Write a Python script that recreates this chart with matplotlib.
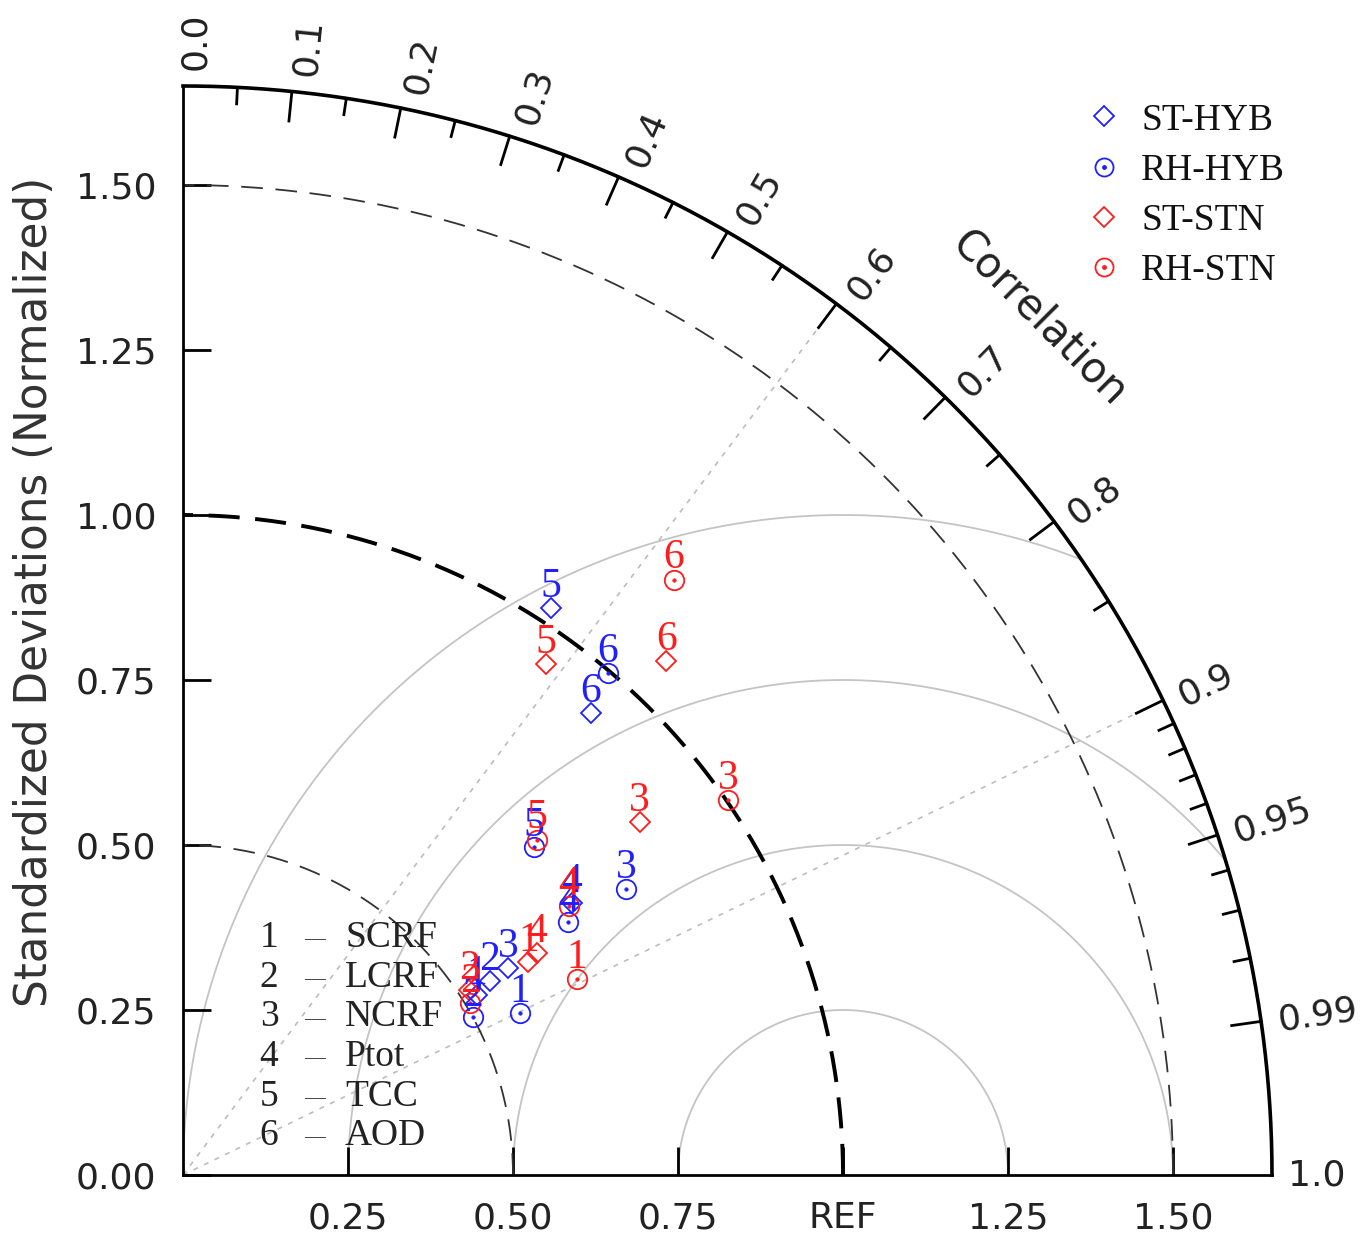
import numpy as np
import matplotlib
matplotlib.use('Agg')
import matplotlib.pyplot as plt
from matplotlib.lines import Line2D
from matplotlib.legend_handler import HandlerTuple

# ---------------- data ----------------
var_ids = ['1', '2', '3', '4', '5', '6']
variables = ['SCRF', 'LCRF', 'NCRF', 'Ptot', 'TCC', 'AOD']
series_names = ['ST-HYB', 'RH-HYB', 'ST-STN', 'RH-STN']

st_hyb_std = [0.522, 0.550, 0.584, 0.719, 1.024, 0.934]
st_hyb_corr = [0.853, 0.845, 0.843, 0.819, 0.545, 0.662]
rh_hyb_std = [0.567, 0.500, 0.799, 0.698, 0.728, 0.997]
rh_hyb_corr = [0.901, 0.878, 0.840, 0.836, 0.731, 0.646]
st_stn_std = [0.615, 0.516, 0.875, 0.633, 0.950, 1.069]
st_stn_corr = [0.851, 0.840, 0.791, 0.847, 0.579, 0.685]
rh_stn_std = [0.667, 0.507, 1.003, 0.713, 0.739, 1.169]
rh_stn_corr = [0.895, 0.858, 0.824, 0.820, 0.726, 0.636]

std_ticks = [0.25, 0.50, 0.75, 1.00, 1.25, 1.50]
x_tick_labels = ['0.25', '0.50', '0.75', 'REF', '1.25', '1.50']
y_ticks = [0.0, 0.25, 0.50, 0.75, 1.00, 1.25, 1.50]
y_tick_labels = ['0.00', '0.25', '0.50', '0.75', '1.00', '1.25', '1.50']
corr_major = [0.0, 0.1, 0.2, 0.3, 0.4, 0.5, 0.6, 0.7, 0.8, 0.9, 0.95, 0.99, 1.0]
corr_major_labels = ['0.0', '0.1', '0.2', '0.3', '0.4', '0.5', '0.6', '0.7',
                     '0.8', '0.9', '0.95', '0.99', '1.0']
corr_minor = [0.05, 0.15, 0.25, 0.35, 0.45, 0.55, 0.65, 0.75, 0.85,
              0.91, 0.92, 0.93, 0.94, 0.96, 0.97, 0.98]
rms_levels = [0.25, 0.50, 0.75, 1.00]
std_thin_arcs = [0.5, 1.5]
ref_std = 1.0
corr_lines = [0.6, 0.9]
smax = 1.65

BLUE = '#2020ff'
RED = '#ff1c1c'

# ---------------- figure ----------------
W, H = 1365, 1234
fig = plt.figure(figsize=(W / 100, H / 100), dpi=100)
X0, Y0, SZ = 183, 1175, 1089
ax = fig.add_axes([X0 / W, (H - Y0) / H, SZ / W, SZ / H])
ax.set_xlim(0, smax)
ax.set_ylim(0, smax)

def pfrac(px, py):
    return ((px - X0) / SZ, (Y0 - py) / SZ)

for s in ['top', 'right']:
    ax.spines[s].set_visible(False)
for s in ['left', 'bottom']:
    ax.spines[s].set_linewidth(2.0)
    ax.spines[s].set_color('black')

ax.set_xticks(std_ticks)
ax.set_xticklabels(x_tick_labels)
ax.set_yticks(y_ticks)
ax.set_yticklabels(y_tick_labels)
ax.tick_params(direction='in', length=20, width=2, pad=19, labelsize=26,
               labelcolor='#222222', color='black')
for lab in ax.get_xticklabels() + ax.get_yticklabels():
    lab.set_family('DejaVu Sans')

# outer arc
th = np.linspace(0, np.pi / 2, 400)
ax.plot(smax * np.cos(th), smax * np.sin(th), color='black', lw=2.6,
        clip_on=False, zorder=5)

# std arcs
for r in std_thin_arcs:
    ax.plot(r * np.cos(th), r * np.sin(th), color='#333333', lw=1.3,
            dashes=(12, 7), zorder=2)
ax.plot(ref_std * np.cos(th), ref_std * np.sin(th), color='black', lw=2.8,
        dashes=(8, 4), zorder=2)

# RMS arcs centered on REF
t = np.linspace(0, np.pi, 800)
for R in rms_levels:
    xs = ref_std + R * np.cos(t)
    ys = R * np.sin(t)
    m = (np.hypot(xs, ys) > smax) | (xs < 0)
    xs = np.where(m, np.nan, xs)
    ys = np.where(m, np.nan, ys)
    ax.plot(xs, ys, color='#c4c4c4', lw=1.3, zorder=1)

# correlation lines
for c in corr_lines:
    a = np.arccos(c)
    ax.plot([0, smax * np.cos(a)], [0, smax * np.sin(a)], color='#bdbdbd',
            lw=1.2, dashes=(3, 4), zorder=1)

# correlation ticks
for c in corr_major[1:-1]:
    a = np.arccos(c)
    ax.plot([(smax - 0.045) * np.cos(a), smax * np.cos(a)],
            [(smax - 0.045) * np.sin(a), smax * np.sin(a)],
            color='black', lw=2, clip_on=False, zorder=5)
for c in corr_minor:
    a = np.arccos(c)
    ax.plot([(smax - 0.025) * np.cos(a), smax * np.cos(a)],
            [(smax - 0.025) * np.sin(a), smax * np.sin(a)],
            color='black', lw=2, clip_on=False, zorder=5)
for c, lab in zip(corr_major, corr_major_labels):
    a = np.arccos(c)
    r = 1.675
    shift = 0.018 * np.sin(a)   # small clockwise offset
    xl = r * np.cos(a) + shift * np.sin(a)
    yl = r * np.sin(a) - shift * np.cos(a)
    ax.text(xl, yl, lab, rotation=np.degrees(a),
            rotation_mode='anchor', ha='left', va='center', fontsize=26,
            color='#222222', family='DejaVu Sans', clip_on=False)

ax.text(1.298, 1.298, 'Correlation', rotation=-45, rotation_mode='anchor',
        ha='center', va='center', fontsize=30, color='#222222',
        family='DejaVu Sans')

fig.text(35 / W, 1 - 592 / H, 'Standardized Deviations (Normalized)',
         rotation=90, ha='center', va='center', fontsize=31.5,
         color='#333333', family='DejaVu Sans')

# ---------------- data points ----------------
series = [
    (st_hyb_std, st_hyb_corr, BLUE, 'D'),
    (rh_hyb_std, rh_hyb_corr, BLUE, 'o'),
    (st_stn_std, st_stn_corr, RED, 'D'),
    (rh_stn_std, rh_stn_corr, RED, 'o'),
]
handles = []
for std, corr, col, mk in series:
    std = np.asarray(std)
    corr = np.asarray(corr)
    xs = std * corr
    ys = std * np.sqrt(1 - corr ** 2)
    if mk == 'D':
        ax.plot(xs, ys, ls='none', marker='D', ms=10.5, mfc='none', mec=col,
                mew=1.3, zorder=6)
        h = Line2D([], [], ls='none', marker='D', ms=10.5, mfc='none',
                   mec=col, mew=1.3)
    else:
        ax.plot(xs, ys, ls='none', marker='o', ms=14, mfc='none', mec=col,
                mew=1.3, zorder=6)
        ax.plot(xs, ys, ls='none', marker='o', ms=2.5, mfc=col, mec=col,
                mew=0.5, zorder=6)
        h = (Line2D([], [], ls='none', marker='o', ms=13, mfc='none', mec=col,
                    mew=1.3),
             Line2D([], [], ls='none', marker='o', ms=2.5, mfc=col, mec=col))
    handles.append(h)
    for vid, x, y in zip(var_ids, xs, ys):
        ax.annotate(vid, (x, y), xytext=(0, 8), textcoords='offset points',
                    ha='center', va='baseline', fontsize=30, color=col,
                    family='Liberation Serif', zorder=7)

leg = ax.legend(handles, series_names, loc='upper left',
                bbox_to_anchor=pfrac(1070, 88), frameon=False,
                prop={'family': 'Liberation Serif', 'size': 27},
                handlelength=1.0, handletextpad=0.5, labelspacing=0.42,
                borderpad=0.4, borderaxespad=0,
                handler_map={tuple: HandlerTuple(ndivide=1, pad=0)})
for txt in leg.get_texts():
    txt.set_color('#111111')

# variable key
for k, (vid, name) in enumerate(zip(var_ids, variables)):
    yy = 938 + 39.6 * k
    ax.text(*pfrac(269, yy), vid, transform=ax.transAxes, ha='center',
            va='center', fontsize=27, family='Liberation Serif', color='#222222')
    ax.text(*pfrac(315, yy + 2), '\u2014', transform=ax.transAxes, ha='center',
            va='center', fontsize=15, family='Liberation Serif', color='#222222')
    ax.text(*pfrac(345, yy), name, transform=ax.transAxes, ha='left',
            va='center', fontsize=27, family='Liberation Serif', color='#222222')

fig.savefig('out.png', dpi=100)
